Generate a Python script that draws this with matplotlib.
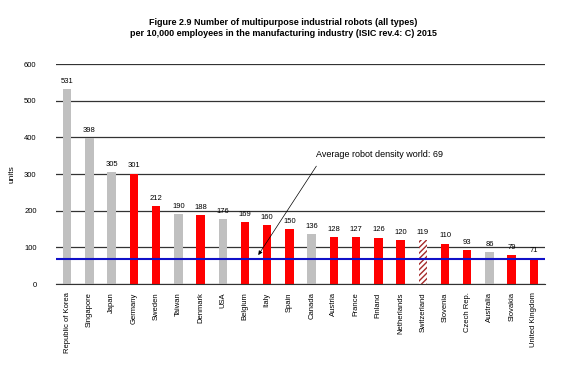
import matplotlib
matplotlib.use('Agg')
import matplotlib.pyplot as plt

plt.rcParams['font.family'] = ['Liberation Sans', 'DejaVu Sans']

countries = ['Republic of Korea', 'Singapore', 'Japan', 'Germany', 'Sweden', 'Taiwan', 'Denmark', 'USA',
             'Belgium', 'Italy', 'Spain', 'Canada', 'Austria', 'France', 'Finland', 'Netherlands',
             'Switzerland', 'Slovenia', 'Czech Rep.', 'Australia', 'Slovakia', 'United Kingdom']
density = [531, 398, 305, 301, 212, 190, 188, 176, 169, 160, 150, 136, 128, 127, 126, 120,
           119, 110, 93, 86, 79, 71]
# g = non-European (grey), r = European (red), h = Switzerland (hatched)
groups = ['g', 'g', 'g', 'r', 'r', 'g', 'r', 'g', 'r', 'r', 'r', 'g', 'r', 'r', 'r', 'r',
          'h', 'r', 'r', 'g', 'r', 'r']
world_avg = 69

fig = plt.figure(figsize=(5.66, 3.73), dpi=100)
ax = fig.add_axes([0.099, 0.2386, 0.864, 0.5898])

x = list(range(len(countries)))
for i in x:
    if groups[i] == 'g':
        ax.bar(i, density[i], width=0.38, color='#C0C0C0', zorder=2)
    elif groups[i] == 'r':
        ax.bar(i, density[i], width=0.38, color='#FF0000', zorder=2)
    else:
        ax.bar(i, density[i], width=0.38, color='white', edgecolor='#A52A2A', hatch='//////',
               linewidth=0, zorder=2)
    ax.text(i, density[i] + 12, str(density[i]), ha='center', va='bottom', fontsize=5.5)

ax.axhline(world_avg, color='#1010C8', linewidth=1.5, zorder=3)
ax.annotate('Average robot density world: 69', xy=(8.6, 79), xytext=(11.2, 354),
            fontsize=6.5, ha='left', va='center',
            arrowprops=dict(arrowstyle='-|>', color='black', lw=0.5, mutation_scale=6,
                            relpos=(0.04, 0), shrinkA=4, shrinkB=0))

ax.set_xlim(-0.5, len(countries) - 0.5)
ax.set_ylim(0, 600)
ax.set_yticks(range(0, 601, 100))
ax.yaxis.grid(True, color='#333333', linewidth=0.9, zorder=0)
ax.set_axisbelow(True)
ax.set_xticks(x)
ax.set_xticklabels(countries, rotation=90, fontsize=5.5)
ax.tick_params(axis='both', length=0, labelsize=5.5, pad=6)
ax.tick_params(axis='y', pad=14)
ax.set_ylabel('units', fontsize=6, labelpad=6)
for s in ['top', 'right', 'left']:
    ax.spines[s].set_visible(False)
ax.spines['bottom'].set_color('#333333')

fig.text(0.5, 0.925, 'Figure 2.9 Number of multipurpose industrial robots (all types)\n'
         'per 10,000 employees in the manufacturing industry (ISIC rev.4: C) 2015',
         ha='center', va='center', fontsize=6.5, fontweight='bold', linespacing=1.4)

fig.savefig('out.png', dpi=100)
